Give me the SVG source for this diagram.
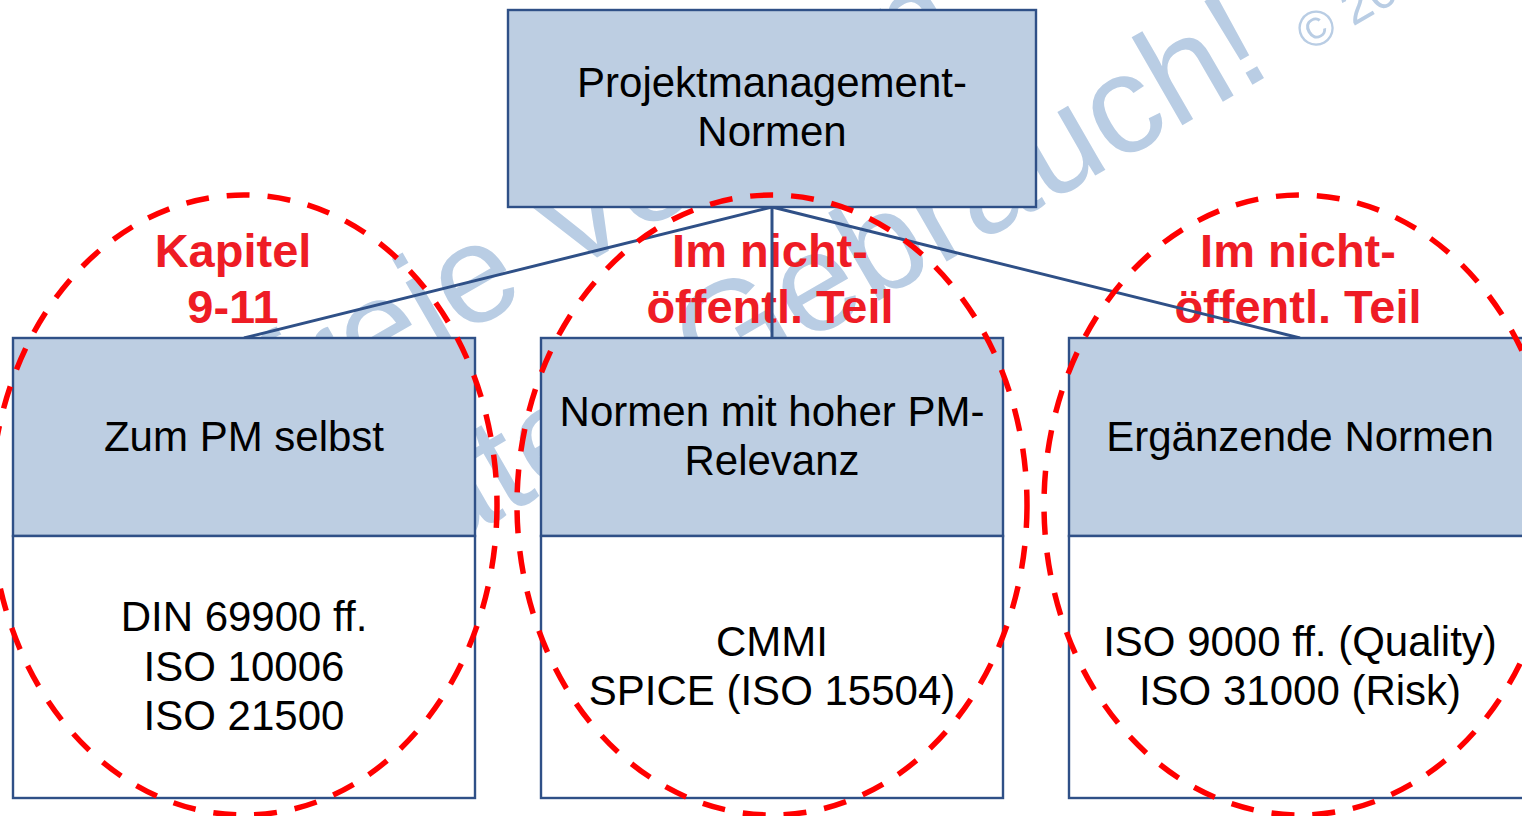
<svg xmlns="http://www.w3.org/2000/svg" width="1522" height="816" viewBox="0 0 1522 816">
<style>
.wm{font-family:"Liberation Sans",Arial,sans-serif;font-size:140px;fill:#b9cde4}
.hdr{fill:#bdcee2;stroke:#2f5087;stroke-width:2.4}
.bdy{fill:#ffffff;stroke:#2f5087;stroke-width:2.4}
.t{font-family:"Liberation Sans",Arial,sans-serif;font-size:42px;fill:#000;text-anchor:middle}
.red{font-family:"Liberation Sans",Arial,sans-serif;font-weight:bold;font-size:47px;fill:#ee1c25;text-anchor:middle}
.conn{stroke:#2f5087;stroke-width:3;fill:none}
.ring{fill:none;stroke:#ff0000;stroke-width:5.5;stroke-dasharray:23 18}
</style>
<g id="watermark">
<text class="wm" transform="translate(293,433) rotate(-30)">freie Version</text>
<text class="wm" transform="translate(244,667) rotate(-30)">privaten Gebrauch! <tspan font-size="50">© 20</tspan></text>
</g>
<g id="labels">
<text class="red" x="233" y="267">Kapitel</text>
<text class="red" x="233" y="323">9-11</text>
<text class="red" x="770" y="267">Im nicht-</text>
<text class="red" x="770" y="323">öffentl. Teil</text>
<text class="red" x="1298" y="267">Im nicht-</text>
<text class="red" x="1298" y="323">öffentl. Teil</text>
</g>
<g id="connectors">
<line class="conn" x1="772" y1="207" x2="244" y2="338"/>
<line class="conn" x1="772" y1="207" x2="772" y2="338"/>
<line class="conn" x1="772" y1="207" x2="1300" y2="338"/>
</g>
<g id="root">
<rect class="hdr" x="508" y="10" width="528" height="197"/>
<text class="t" x="772" y="97">Projektmanagement-</text>
<text class="t" x="772" y="146">Normen</text>
</g>
<g id="node-pm">
<rect class="hdr" x="13" y="338" width="462" height="198"/>
<rect class="bdy" x="13" y="536" width="462" height="262"/>
<text class="t" x="244" y="451">Zum PM selbst</text>
<text class="t" x="244" y="631">DIN 69900 ff.</text>
<text class="t" x="244" y="681">ISO 10006</text>
<text class="t" x="244" y="730">ISO 21500</text>
</g>
<g id="node-relevanz">
<rect class="hdr" x="541" y="338" width="462" height="198"/>
<rect class="bdy" x="541" y="536" width="462" height="262"/>
<text class="t" x="772" y="426">Normen mit hoher PM-</text>
<text class="t" x="772" y="475">Relevanz</text>
<text class="t" x="772" y="656">CMMI</text>
<text class="t" x="772" y="705">SPICE (ISO 15504)</text>
</g>
<g id="node-ergaenzend">
<rect class="hdr" x="1069" y="338" width="462" height="198"/>
<rect class="bdy" x="1069" y="536" width="462" height="262"/>
<text class="t" x="1300" y="451">Ergänzende Normen</text>
<text class="t" x="1300" y="656">ISO 9000 ff. (Quality)</text>
<text class="t" x="1300" y="705">ISO 31000 (Risk)</text>
</g>
<g id="highlights">
<ellipse class="ring" cx="244" cy="505" rx="253" ry="310"/>
<ellipse class="ring" cx="772" cy="505" rx="255" ry="310"/>
<ellipse class="ring" cx="1300" cy="505" rx="256" ry="310"/>
</g>
</svg>
